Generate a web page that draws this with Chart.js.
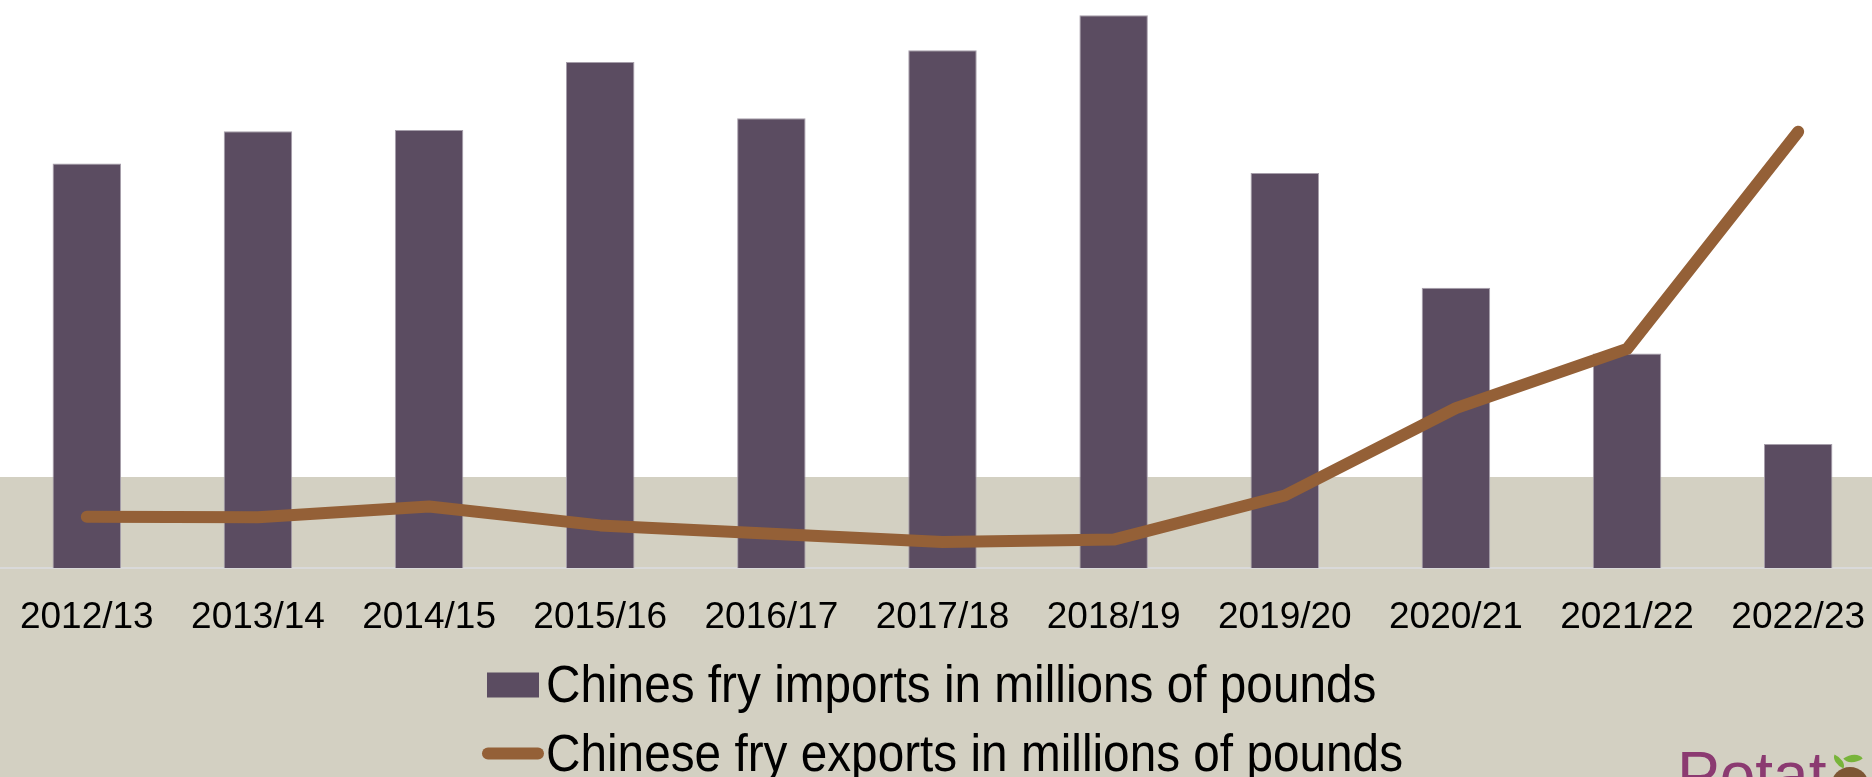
<!DOCTYPE html>
<html>
<head>
<meta charset="utf-8">
<title>Chinese fry trade</title>
<script src="https://cdn.jsdelivr.net/npm/chart.js@4.4.0/dist/chart.umd.min.js"></script>
<style>
  html, body { margin: 0; padding: 0; }
  body {
    width: 1872px; height: 777px; overflow: hidden; position: relative;
    background: linear-gradient(to bottom, #ffffff 0, #ffffff 477px, #d3d0c2 477px, #d3d0c2 100%);
    font-family: 'Liberation Sans', Arial, sans-serif;
  }
  /* chart is a little wider than the window: the slide was cropped on the right */
  #wrap { position: absolute; left: 0; top: 0; width: 1885px; height: 777px; }
  .logo { position: absolute; left: 1677px; top: 743px; font-size: 64px; line-height: 1; color: #8b3a71; white-space: nowrap; }
  .spud { position: absolute; left: 1831px; top: 767px; width: 38px; height: 38px; border-radius: 50%; background: #7d5634; }
  .leaf { position: absolute; width: 14px; height: 9px; background: #78b43a; border-radius: 0 100% 0 100%; }
</style>
</head>
<body>
<div id="wrap"><canvas id="fryChart" width="1885" height="777"></canvas></div>
<div class="logo">Potat</div>
<div class="spud"></div>
<div class="leaf" style="left:1832px;top:757px;transform:rotate(25deg);"></div>
<div class="leaf" style="left:1845px;top:753px;transform:rotate(-35deg);width:16px;height:11px;"></div>

<script>
// ---- data (millions of pounds) ----
const seasons = ['2012/13', '2013/14', '2014/15', '2015/16', '2016/17', '2017/18',
                 '2018/19', '2019/20', '2020/21', '2021/22', '2022/23'];
const importsMlb = [213.6, 230.7, 231.3, 267.2, 237.6, 273.5, 291.9, 208.6, 148.0, 113.3, 65.5];
const exportsMlb = [27.1, 26.8, 32.5, 22.5, 18.1, 13.7, 15.0, 38.3, 84.4, 115.7, 230.4];
const seriesNames = ['Chines fry imports in millions of pounds', 'Chinese fry exports in millions of pounds'];
const yMax = 300;

const FONT = "'Liberation Sans', Arial, sans-serif";
const barColor = '#5b4c61';
const lineColor = '#946037';

// Office-style legend: block centred under the plot, entries left aligned,
// text slightly condensed like the original slide
const slideLegend = {
    id: 'slideLegend',
    afterDraw(chart) {
        const ctx = chart.ctx;
        const sx = 0.936;
        const rowGap = 68.5;
        const firstBase = 702;
        ctx.save();
        ctx.font = '51px ' + FONT;
        const widths = chart.data.datasets.map(ds => ctx.measureText(ds.label).width * sx);
        const blockW = 64 + Math.max(...widths);
        const left = (chart.chartArea.left + chart.chartArea.right) / 2 - blockW / 2;

        chart.data.datasets.forEach((ds, i) => {
            const base = firstBase + i * rowGap;
            const mid = base - 17;
            if (ds.type === 'line') {
                ctx.strokeStyle = ds.borderColor;
                ctx.lineWidth = ds.borderWidth;
                ctx.lineCap = 'round';
                ctx.beginPath();
                ctx.moveTo(left + 6, mid);
                ctx.lineTo(left + 56, mid);
                ctx.stroke();
            } else {
                ctx.fillStyle = ds.backgroundColor;
                ctx.fillRect(left + 5, mid - 12.5, 52, 25);
            }
            ctx.fillStyle = '#000';
            ctx.textBaseline = 'alphabetic';
            ctx.translate(left + 64, base);
            ctx.scale(sx, 1);
            ctx.fillText(ds.label, 0, 0);
            ctx.setTransform(1, 0, 0, 1, 0, 0);
        });
        ctx.restore();
    }
};

new Chart(document.getElementById('fryChart'), {
    type: 'bar',
    data: {
        labels: seasons,
        datasets: [
            {
                label: seriesNames[0],
                data: importsMlb,
                backgroundColor: barColor,
                borderColor: '#a69eaa',
                borderWidth: 1,
                barPercentage: 0.4,
                categoryPercentage: 1,
                order: 2
            },
            {
                type: 'line',
                label: seriesNames[1],
                data: exportsMlb,
                borderColor: lineColor,
                borderWidth: 12,
                borderCapStyle: 'round',
                borderJoinStyle: 'round',
                pointRadius: 0,
                tension: 0,
                fill: false,
                order: 1
            }
        ]
    },
    options: {
        responsive: false,
        animation: false,
        layout: { padding: 0 },
        plugins: {
            tooltip: { enabled: false },
            legend: { display: false }
        },
        scales: {
            x: {
                grid: { display: false },
                border: { display: true, color: '#d9d9d9', width: 2 },
                ticks: { color: '#000', font: { family: FONT, size: 37 }, padding: 20, maxRotation: 0, autoSkip: false },
                // room for tick labels + the two legend rows below the plot
                afterFit: (scale) => { scale.height = 209; }
            },
            y: { display: false, min: 0, max: yMax }
        }
    },
    plugins: [slideLegend]
});
</script>
</body>
</html>
